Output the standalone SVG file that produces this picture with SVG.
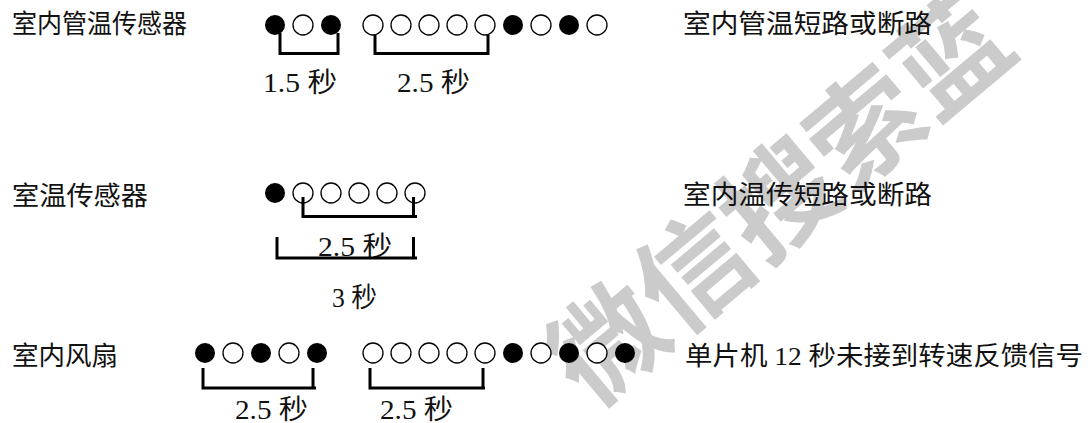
<svg xmlns="http://www.w3.org/2000/svg" width="1088" height="423" viewBox="0 0 1088 423">
<style>
.lbl{font-family:"Liberation Serif","Noto Sans CJK SC",serif;font-size:26px;fill:#111}
.t{font-family:"Liberation Serif","Noto Sans CJK SC",serif;font-size:27px;fill:#111}
.f{fill:#000}
.o{fill:#fff;stroke:#000;stroke-width:1.3}
.br{fill:none;stroke:#000;stroke-width:3}
.wm{font-family:"Noto Sans CJK SC",sans-serif;font-weight:bold;font-size:112px;fill:#cbcbcb}
</style>
<defs>
<circle id="F" r="10" class="f"/>
<circle id="O" r="10" class="o"/>
</defs>
<rect width="1088" height="423" fill="#fff"/>
<g id="watermark">
<text class="wm" transform="translate(780,200) rotate(-40)" x="0" y="40" text-anchor="middle">微信搜索蓝</text>
</g>
<g id="row-pipe-sensor">
<text class="lbl" x="12" y="33" textLength="175" lengthAdjust="spacingAndGlyphs">室内管温传感器</text>
<use href="#F" x="275" y="25"/><use href="#O" x="303" y="25"/><use href="#F" x="331" y="25"/>
<use href="#O" x="373" y="25"/><use href="#O" x="401" y="25"/><use href="#O" x="429" y="25"/><use href="#O" x="457" y="25"/><use href="#O" x="485" y="25"/>
<use href="#F" x="513" y="25"/><use href="#O" x="541" y="25"/><use href="#F" x="569" y="25"/><use href="#O" x="597" y="25"/>
<text class="t" x="263" y="92" textLength="74" lengthAdjust="spacingAndGlyphs">1.5 秒</text>
<text class="t" x="397" y="92" textLength="73" lengthAdjust="spacingAndGlyphs">2.5 秒</text>
<text class="lbl" x="683" y="33" textLength="249" lengthAdjust="spacingAndGlyphs">室内管温短路或断路</text>
</g>
<g id="row-room-sensor">
<text class="lbl" x="12" y="205" textLength="136" lengthAdjust="spacingAndGlyphs">室温传感器</text>
<use href="#F" x="275" y="193"/><use href="#O" x="303" y="193"/><use href="#O" x="331" y="193"/><use href="#O" x="359" y="193"/><use href="#O" x="387" y="193"/><use href="#O" x="415" y="193"/>
<text class="t" x="318" y="256" textLength="74" lengthAdjust="spacingAndGlyphs">2.5 秒</text>
<text class="t" x="332" y="307" textLength="45" lengthAdjust="spacingAndGlyphs">3 秒</text>
<text class="lbl" x="683" y="204" textLength="249" lengthAdjust="spacingAndGlyphs">室内温传短路或断路</text>
</g>
<g id="row-fan">
<text class="lbl" x="12" y="365" textLength="106" lengthAdjust="spacingAndGlyphs">室内风扇</text>
<use href="#F" x="205" y="353"/><use href="#O" x="233" y="353"/><use href="#F" x="261" y="353"/><use href="#O" x="289" y="353"/><use href="#F" x="317" y="353"/>
<use href="#O" x="373" y="353"/><use href="#O" x="401" y="353"/><use href="#O" x="429" y="353"/><use href="#O" x="457" y="353"/><use href="#O" x="485" y="353"/>
<use href="#F" x="513" y="353"/><use href="#O" x="541" y="353"/><use href="#F" x="569" y="353"/><use href="#O" x="597" y="353"/><use href="#F" x="625" y="353"/>
<text class="t" x="235" y="419" textLength="73" lengthAdjust="spacingAndGlyphs">2.5 秒</text>
<text class="t" x="380" y="419" textLength="73" lengthAdjust="spacingAndGlyphs">2.5 秒</text>
<text class="lbl" x="685" y="365" textLength="398" lengthAdjust="spacingAndGlyphs">单片机 12 秒未接到转速反馈信号</text>
</g>
<g id="connectors">
<path class="br" d="M280 33 V53.5 H338 V33"/>
<path class="br" d="M375 35 V53.5 H488 V35"/>
<path class="br" d="M303 197 V216.5 H417 M413.5 197 V216.5"/>
<path class="br" d="M277 237 V258 H417 M413.5 237 V258"/>
<path class="br" d="M203 368 V388 H316 M313 368 V388"/>
<path class="br" d="M370 368 V388 H485 M483 368 V388"/>
</g>
</svg>
